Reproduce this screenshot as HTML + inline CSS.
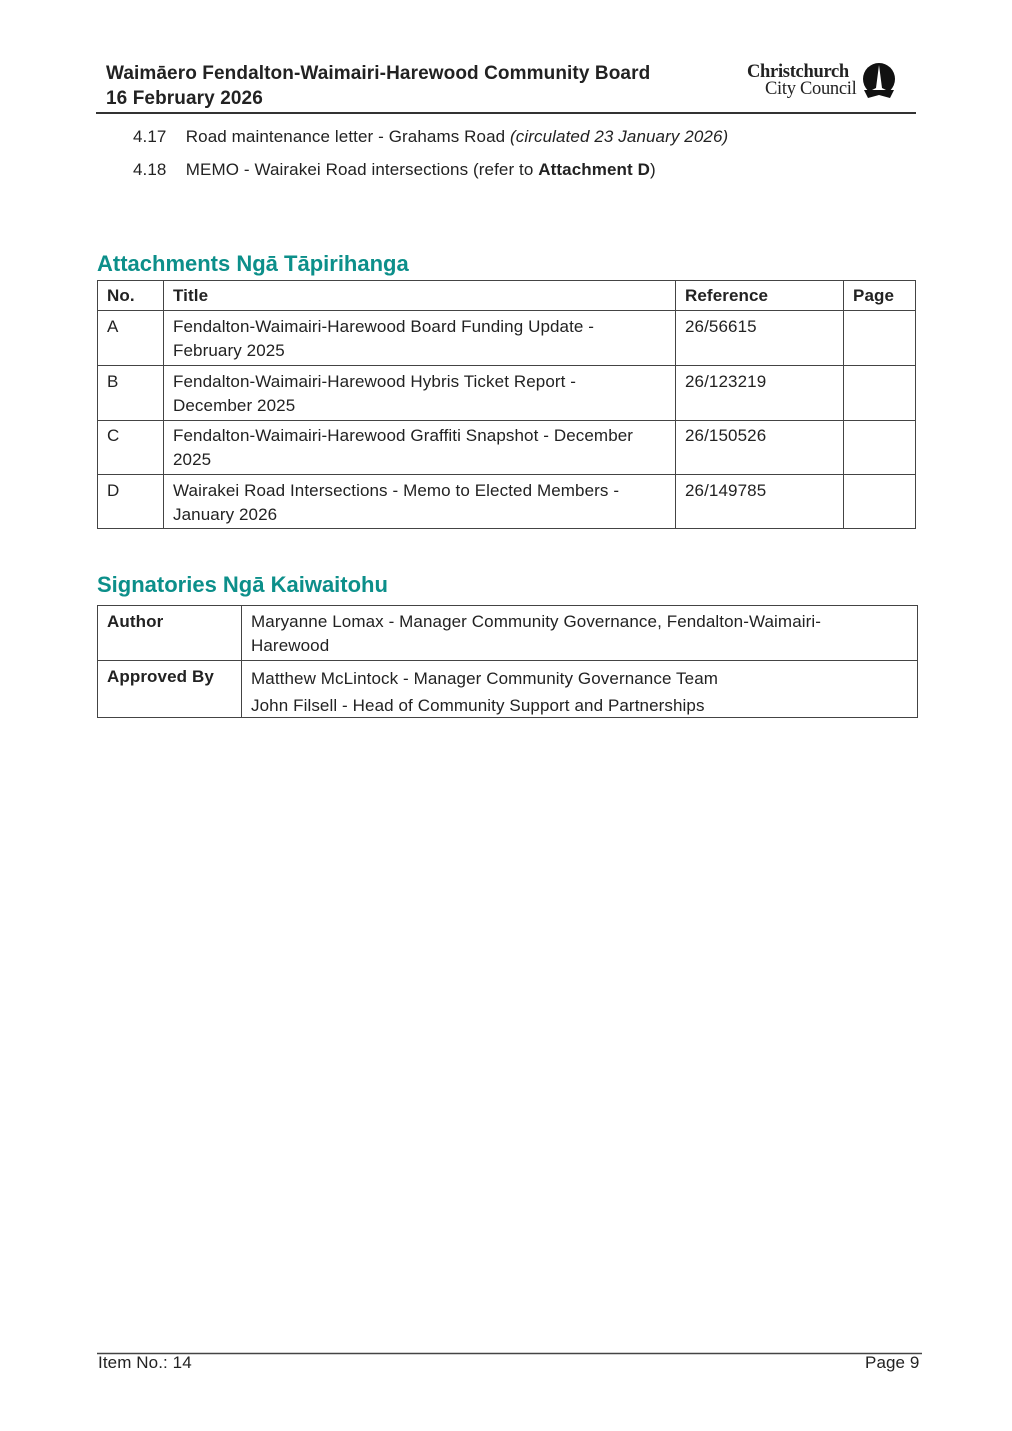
<!DOCTYPE html>
<html><head><style>
*{margin:0;padding:0;box-sizing:border-box}
body{width:1012px;height:1431px;background:#fff;position:relative;font-family:"Liberation Sans",sans-serif;color:#222;font-size:17px;letter-spacing:0.1px;overflow:hidden}
.a{position:absolute;white-space:nowrap;line-height:24px}
.b{font-weight:bold}
.h{color:#0c8f8a;font-weight:bold;font-size:22px;letter-spacing:0px}
.l{position:absolute;background:#333}
</style></head><body>
<div class="a b" style="left:106px;top:62px;font-size:19px;letter-spacing:0.1px">Waimāero Fendalton-Waimairi-Harewood Community Board</div>
<div class="a b" style="left:106px;top:87px;font-size:19px">16 February 2026</div>
<div class="a" style="left:747px;top:62px;font-family:'Liberation Serif',serif;font-weight:bold;font-size:18.5px;line-height:20px;letter-spacing:-0.3px">Christchurch</div>
<div class="a" style="left:765px;top:79px;font-family:'Liberation Serif',serif;font-size:18.5px;line-height:20px;letter-spacing:-0.3px">City Council</div>
<svg class="a" style="left:860px;top:62px" width="38" height="38" viewBox="0 0 38 38"><circle cx="19" cy="17" r="16" fill="#111"/><path d="M19 3 L16 26 L10 29 L28 29 L22 26Z" fill="#fff"/><path d="M4 28 L34 28 L30 36 L19 33 L8 36Z" fill="#111"/></svg>
<div class="l" style="left:96px;top:112px;width:820px;height:1.5px"></div>
<div class="a" style="left:133px;top:125px">4.17&nbsp;&nbsp;&nbsp; Road maintenance letter - Grahams Road <i>(circulated 23 January 2026)</i></div>
<div class="a" style="left:133px;top:158px">4.18&nbsp;&nbsp;&nbsp; MEMO - Wairakei Road intersections (refer to <b>Attachment D</b>)</div>
<div class="a h" style="left:97px;top:252px">Attachments Ngā Tāpirihanga</div>
<svg class="a" style="left:0;top:0" width="1012" height="1431">
<g stroke="#444" stroke-width="1" fill="none">
<rect x="97.5" y="280.5" width="818" height="248"/>
<line x1="97" y1="310.5" x2="915" y2="310.5"/><line x1="97" y1="365.5" x2="915" y2="365.5"/><line x1="97" y1="420.5" x2="915" y2="420.5"/><line x1="97" y1="474.5" x2="915" y2="474.5"/>
<line x1="163.5" y1="280" x2="163.5" y2="529"/><line x1="675.5" y1="280" x2="675.5" y2="529"/><line x1="843.5" y1="280" x2="843.5" y2="529"/>
<rect x="97.5" y="605.5" width="820" height="112"/>
<line x1="97" y1="660.5" x2="917" y2="660.5"/><line x1="241.5" y1="605" x2="241.5" y2="718"/>
<line x1="97" y1="1353.5" x2="922" y2="1353.5" stroke-width="1.5"/>
</g></svg>
<div class="a b" style="left:107px;top:284px">No.</div>
<div class="a b" style="left:173px;top:284px">Title</div>
<div class="a b" style="left:685px;top:284px">Reference</div>
<div class="a b" style="left:853px;top:284px">Page</div>
<div class="a" style="left:107px;top:315px">A</div>
<div class="a" style="left:173px;top:315px">Fendalton-Waimairi-Harewood Board Funding Update -<br>February 2025</div>
<div class="a" style="left:685px;top:315px">26/56615</div>
<div class="a" style="left:107px;top:370px">B</div>
<div class="a" style="left:173px;top:370px">Fendalton-Waimairi-Harewood Hybris Ticket Report -<br>December 2025</div>
<div class="a" style="left:685px;top:370px">26/123219</div>
<div class="a" style="left:107px;top:424px">C</div>
<div class="a" style="left:173px;top:424px">Fendalton-Waimairi-Harewood Graffiti Snapshot - December<br>2025</div>
<div class="a" style="left:685px;top:424px">26/150526</div>
<div class="a" style="left:107px;top:479px">D</div>
<div class="a" style="left:173px;top:479px">Wairakei Road Intersections - Memo to Elected Members -<br>January 2026</div>
<div class="a" style="left:685px;top:479px">26/149785</div>
<div class="a h" style="left:97px;top:573px">Signatories Ngā Kaiwaitohu</div>
<div class="a b" style="left:107px;top:610px">Author</div>
<div class="a" style="left:251px;top:610px">Maryanne Lomax - Manager Community Governance, Fendalton-Waimairi-<br>Harewood</div>
<div class="a b" style="left:107px;top:665px">Approved By</div>
<div class="a" style="left:251px;top:665px;line-height:27px">Matthew McLintock - Manager Community Governance Team<br>John Filsell - Head of Community Support and Partnerships</div>
<div class="a" style="left:98px;top:1351px">Item No.: 14</div>
<div class="a" style="left:865px;top:1351px">Page 9</div>
</body></html>
